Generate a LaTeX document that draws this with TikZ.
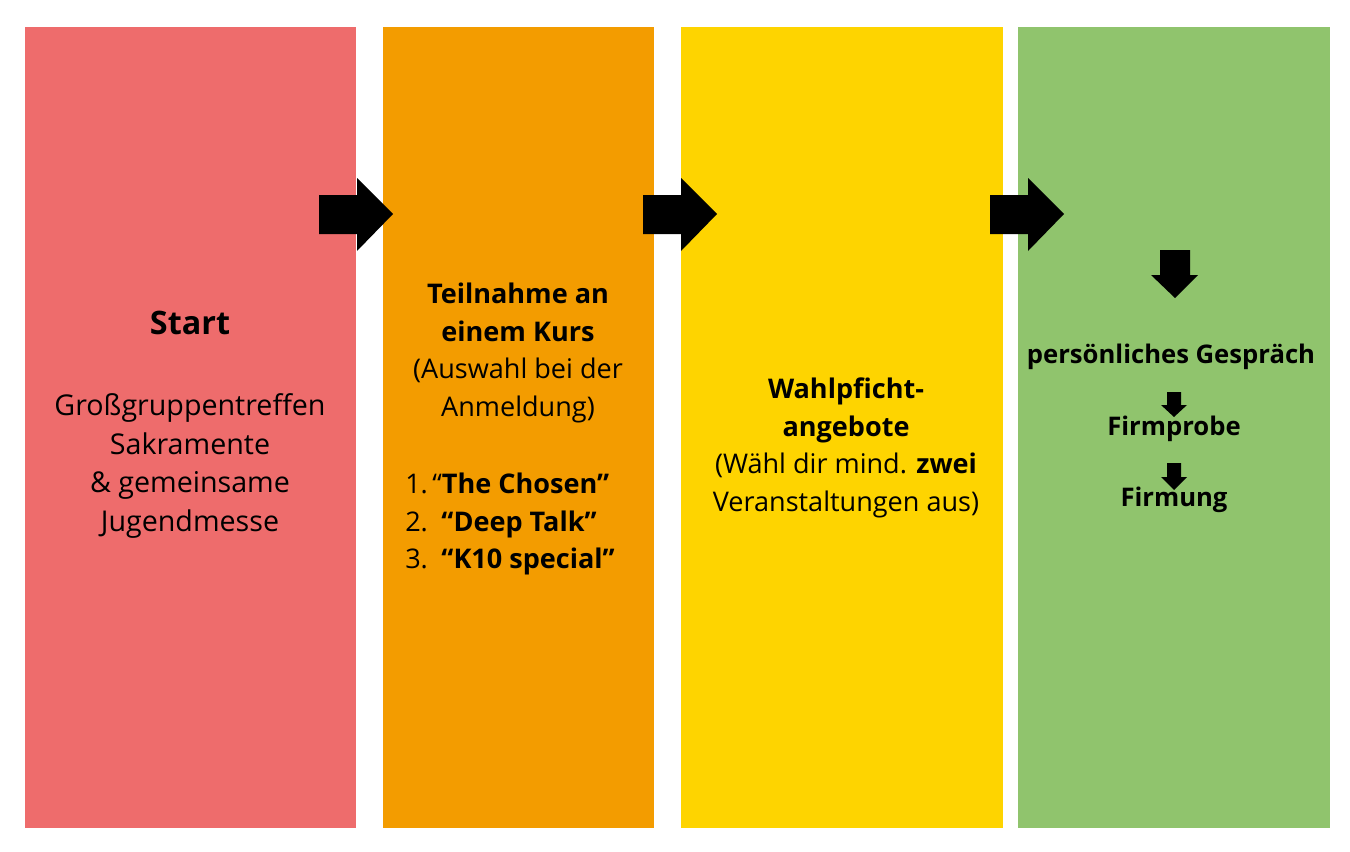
\documentclass[tikz,border=0pt]{standalone}
\usepackage{fontspec}
\setmainfont{Open Sans}
\definecolor{colred}{HTML}{EE6C6C}
\definecolor{colorange}{HTML}{F39C00}
\definecolor{colyellow}{HTML}{FED400}
\definecolor{colgreen}{HTML}{90C46D}
\newcommand{\rarrow}[1]{\fill[black] (#1) ++(0,-17) -- ++(38,0) -- ++(0,-17) -- ++(36,36) -- ++(-36,37) -- ++(0,-17) -- ++(-38,0) -- cycle;}
\begin{document}
\begin{tikzpicture}[x=0.02cm,y=-0.02cm,
  col/.style={inner sep=0pt,minimum width=#1*0.02cm,minimum height=801*0.02cm,anchor=north west},
  txt/.style={align=center,font=\fontsize{16.3}{22}\selectfont},
  small/.style={align=center,font=\fontsize{15.4}{21.3}\selectfont},
  green/.style={align=center,font=\bfseries\fontsize{14.6}{18}\selectfont}]
    \useasboundingbox (0,0) rectangle (1350,852);
    % columns
    \node[col=331,fill=colred] (red) at (25,27) {};
    \node[col=271,fill=colorange] (orange) at (383,27) {};
    \node[col=322,fill=colyellow] (yellow) at (681,27) {};
    \node[col=312,fill=colgreen] (green) at (1018,27) {};
    % texts
    \node[txt] (start) at (190,323) {\bfseries\fontsize{18.4}{22}\selectfont Start};
    \node[txt] (treffen) at (190,466) {Großgruppentreffen\\Sakramente\\\& gemeinsame\\Jugendmesse};
    \node[small] (kurs) at (518,353) {\bfseries Teilnahme an\\\bfseries einem Kurs\\(Auswahl bei der\\Anmeldung)};
    \node[small,align=left] (liste) at (510,524) {1.\,“\textbf{The Chosen”}\\2.\enspace\textbf{“Deep Talk”}\\3.\enspace\textbf{“K10 special”}};
    \node[small] (wahl) at (846,448) {\bfseries Wahlpficht-\\\bfseries angebote\\(Wähl dir mind. \textbf{zwei}\\Veranstaltungen aus)};
    \node[green] (gespraech) at (1171,357) {persönliches Gespräch};
    \node[green] (probe) at (1174,429) {Firmprobe};
    \node[green] (firmung) at (1174,500) {Firmung};
    % arrows
    \coordinate (a1) at (319,212);
    \coordinate (a2) at (643,212);
    \coordinate (a3) at (990,212);
    \rarrow{a1}
    \rarrow{a2}
    \rarrow{a3}
    \fill[black] (1160,250) -- (1190,250) -- (1190,275) -- (1198,275) -- (1175,298) -- (1151,275) -- (1160,275) -- cycle;
    \fill[black] (1167,392) -- (1181,392) -- (1181,405) -- (1187,405) -- (1174,417) -- (1161,405) -- (1167,405) -- cycle;
    \fill[black] (1167,463) -- (1181,463) -- (1181,477) -- (1187,477) -- (1174,490) -- (1161,477) -- (1167,477) -- cycle;
\end{tikzpicture}
\end{document}
